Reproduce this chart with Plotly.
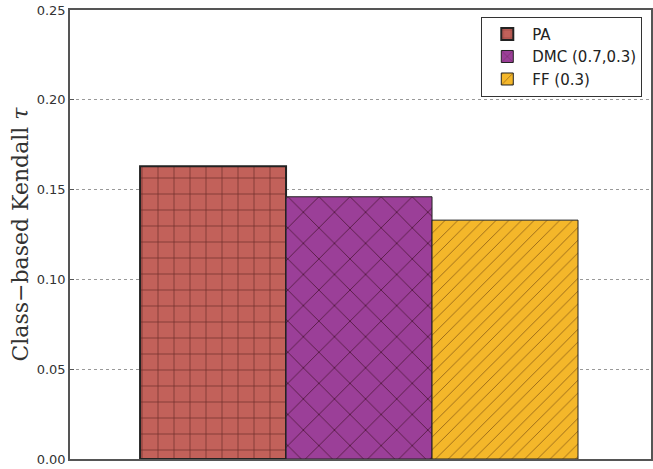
import plotly.graph_objects as go

methods = ["PA", "DMC (0.7,0.3)", "FF (0.3)"]
values = [0.163, 0.146, 0.133]
positions = [0, 1, 2]
colors = ["#c2615a", "#9b3f98", "#f4b72a"]
patterns = ["+", "x", "/"]
pattern_sizes = [16, 22, 9]
edge_widths = [2, 1, 1]

fig = go.Figure()
for name, v, xpos, c, p, ps, ew in zip(methods, values, positions, colors, patterns, pattern_sizes, edge_widths):
    fig.add_trace(go.Bar(
        x=[xpos], y=[v], name=name, width=1,
        marker=dict(color=c, line=dict(color="#222", width=ew),
                    pattern=dict(shape=p, size=ps, solidity=0.08,
                                 fgcolor="rgba(30,0,0,0.75)", fgopacity=0.75)),
    ))

fig.update_layout(
    width=653, height=469,
    margin=dict(l=70, r=2, t=10, b=10, autoexpand=False),
    plot_bgcolor="white", paper_bgcolor="white",
    barmode="overlay",
    font=dict(family="DejaVu Sans", size=13, color="#333"),
    legend=dict(x=0.985, y=0.985, xanchor="right", yanchor="top",
                bgcolor="white", bordercolor="#333", borderwidth=1,
                itemwidth=40,
                font=dict(size=15, color="#222"), tracegroupgap=4),
    showlegend=True,
)
fig.update_xaxes(range=[-0.98, 3.0], showticklabels=False, ticks="",
                 showgrid=False, zeroline=False, automargin=False,
                 showline=True, mirror=True, linecolor="#555", linewidth=1.5)
fig.update_yaxes(range=[0, 0.25], tickvals=[0, 0.05, 0.10, 0.15, 0.20, 0.25],
                 tickformat=".2f", ticks="inside", ticklen=4, tickcolor="#555",
                 ticklabeloverflow="allow", automargin=False,
                 showgrid=True, gridcolor="#999", griddash="dot", gridwidth=1,
                 zeroline=False,
                 showline=True, mirror=True, linecolor="#555", linewidth=1.5,
                 title=dict(text="Class−based Kendall <i>τ</i>",
                            font=dict(family="DejaVu Serif", size=22, color="#333"),
                            standoff=2))

fig.write_html("out.html", config={"displayModeBar": False},
               post_script="document.body.style.margin='0';")
